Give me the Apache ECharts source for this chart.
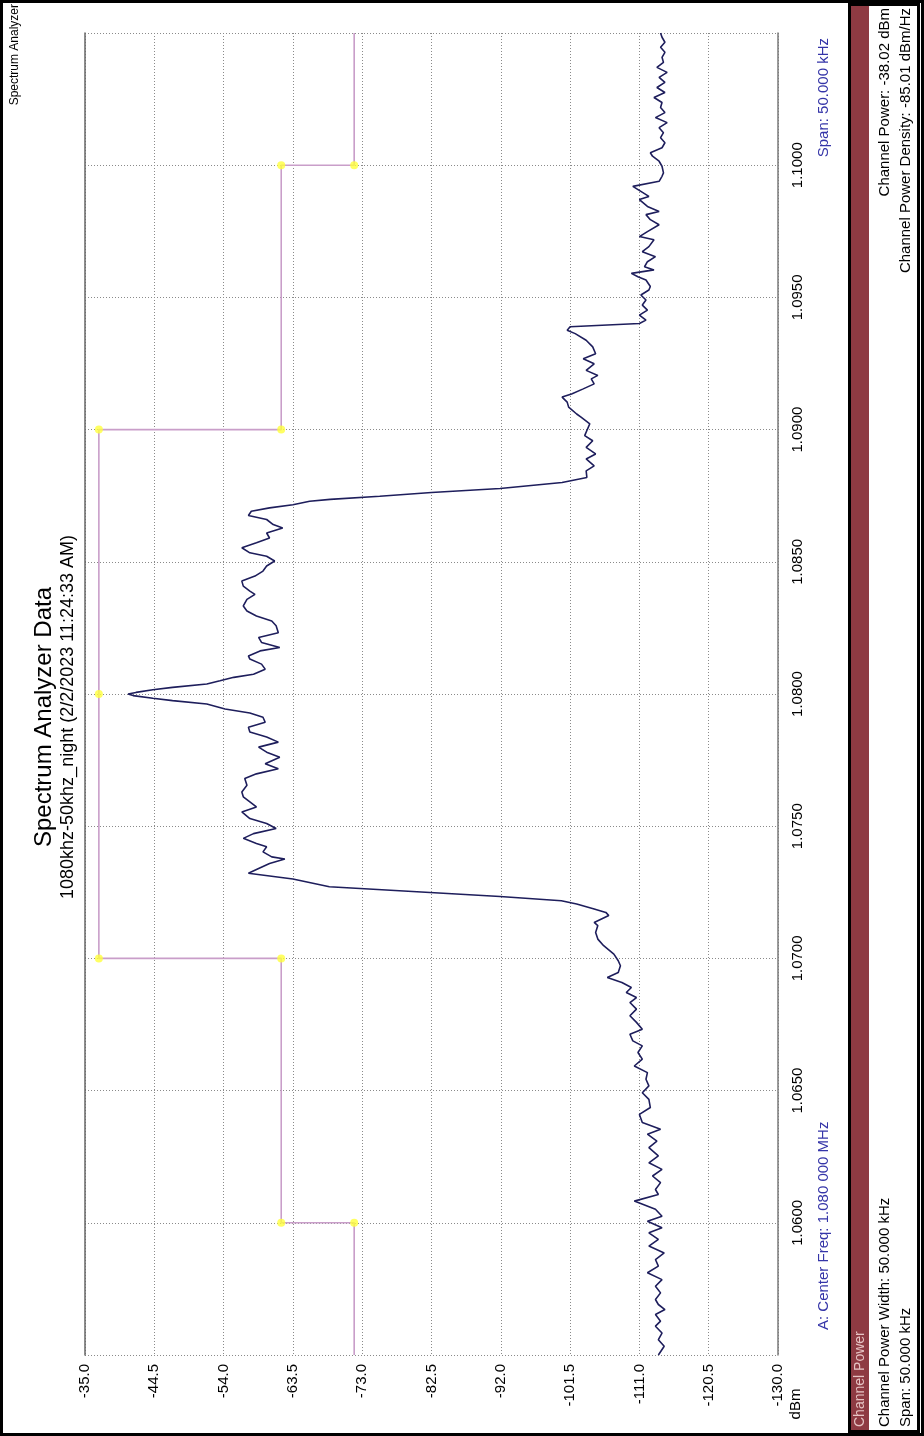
<!DOCTYPE html>
<html>
<head>
<meta charset="utf-8">
<script src="https://cdn.jsdelivr.net/npm/echarts@6/dist/echarts.min.js"></script>
<style>
  html, body { margin: 0; padding: 0; background: #fff; }
  #chart { width: 924px; height: 1436px; }
</style>
</head>
<body>
<div id="chart"></div>
<script>
// Sweep: frequency (kHz) and measured level (dBm)
const freqKHz = [
  1055.00,1055.33,1055.58,1055.83,1056.09,1056.28,1056.53,1056.72,1056.91,1057.10,
  1057.35,1057.60,1057.85,1058.11,1058.36,1058.61,1058.86,1059.12,1059.37,1059.62,
  1059.81,1060.06,1060.25,1060.51,1060.82,1061.07,1061.26,1061.52,1061.77,1062.02,
  1062.27,1062.53,1062.84,1063.09,1063.35,1063.54,1063.79,1064.10,1064.36,1064.67,
  1064.92,1065.18,1065.43,1065.68,1065.93,1066.19,1066.44,1066.69,1066.88,1067.13,
  1067.32,1067.58,1067.83,1068.08,1068.33,1068.52,1068.71,1068.90,1069.09,1069.28,
  1069.47,1069.72,1069.91,1070.16,1070.48,1070.73,1070.98,1071.24,1071.36,1071.62,
  1071.74,1071.87,1072.06,1072.18,
  1072.34,1072.49,1072.71,1073.00,1073.22,
  1073.40,1073.59,1073.76,1073.84,1074.03,1074.22,1074.35,1074.54,1074.72,1074.91,
  1075.10,1075.29,1075.54,1075.73,1075.92,1076.11,1076.29,1076.55,1076.80,1076.98,
  1077.17,1077.36,1077.61,1077.80,1077.99,1078.18,1078.37,1078.56,1078.74,1078.93,
  1079.12,1079.28,1079.43,1079.62,1079.75,1079.84,1079.94,1080.00,1080.06,1080.16,
  1080.25,1080.38,1080.50,1080.63,1080.75,1080.94,1081.13,1081.32,1081.44,1081.63,
  1081.76,1081.95,1082.14,1082.32,1082.58,1082.76,1082.95,1083.14,1083.33,1083.58,
  1083.77,1083.89,1084.08,1084.27,1084.46,1084.65,1084.84,1085.03,1085.21,1085.34,
  1085.53,1085.72,1085.90,1086.09,1086.28,1086.41,1086.60,1086.75,1086.91,1087.04,
  1087.16,1087.29,1087.36,
  1087.48,1087.62,1087.77,1088.00,1088.19,
  1088.44,1088.63,1088.89,1089.08,1089.33,1089.58,1089.77,1090.03,1090.22,1090.47,
  1090.59,1090.85,1091.04,1091.23,1091.35,1091.54,1091.73,1091.92,1092.05,1092.24,
  1092.49,1092.68,1092.87,1093.13,1093.38,1093.63,1093.76,1093.89,1094.01,1094.14,
  1094.33,1094.52,1094.71,1094.90,1095.09,1095.28,1095.41,1095.66,1095.78,1095.91,
  1096.04,1096.16,1096.35,1096.54,1096.73,1096.92,1097.18,1097.30,1097.49,1097.75,
  1097.94,1098.13,1098.25,1098.44,1098.70,1098.82,1099.01,1099.20,1099.39,1099.58,
  1099.71,1099.96,1100.15,1100.34,1100.47,1100.66,1100.85,1101.04,1101.23,1101.42,
  1101.61,1101.80,1101.99,1102.18,1102.37,1102.56,1102.75,1102.94,1103.13,1103.32,
  1103.51,1103.70,1103.89,1104.08,1104.27,1104.46,1104.65,1104.84,1105.00
];
const levelDbm = [
  -113.6,-114.4,-113.6,-114.1,-113.2,-113.9,-113.2,-114.5,-113.6,-113.2,
  -113.9,-113.2,-114.1,-112.1,-113.6,-113.2,-114.4,-112.3,-113.6,-112.3,
  -114.1,-112.1,-114.1,-113.2,-110.3,-113.6,-113.2,-113.9,-112.8,-114.1,
  -112.3,-113.6,-112.3,-113.4,-112.1,-113.9,-111.4,-111.0,-112.5,-112.3,
  -111.4,-112.3,-111.9,-112.1,-110.3,-111.4,-110.8,-111.4,-110.1,-109.7,
  -111.4,-110.6,-109.7,-110.6,-109.7,-110.6,-109.2,-109.9,-108.6,-106.6,
  -108.1,-108.4,-108.1,-107.5,-106.1,-105.3,-105.0,-105.3,-104.8,-106.8,
  -106.4,-104.8,-102.4,-100.3,
  -91.9,-82.3,-68.5,-63.5,-57.4,
  -58.8,-60.3,-62.4,-60.6,-59.4,-59.9,-58.5,-56.7,-58.1,-61.2,
  -59.9,-57.6,-56.5,-58.5,-57.6,-56.7,-56.5,-57.2,-56.9,-58.5,
  -61.5,-59.7,-61.7,-59.9,-58.8,-61.5,-59.9,-57.6,-57.4,-59.7,
  -59.4,-57.6,-54.2,-51.7,-47.0,-44.3,-41.6,-40.9,-42.0,-44.3,
  -47.0,-51.7,-53.5,-55.4,-58.1,-59.7,-59.2,-57.6,-57.4,-59.0,
  -61.7,-59.2,-58.8,-61.5,-61.2,-60.6,-58.5,-57.2,-56.7,-57.2,
  -58.3,-57.6,-56.7,-56.5,-58.3,-59.4,-59.9,-61.0,-59.9,-57.6,
  -56.5,-58.5,-60.3,-59.9,-62.1,-60.8,-59.9,-57.4,-57.8,-60.3,
  -63.5,-65.8,-68.6,
  -75.4,-82.5,-91.9,-100.4,-103.8,
  -103.7,-104.8,-103.7,-105.0,-103.7,-104.6,-103.5,-103.9,-104.2,-103.0,
  -102.4,-101.3,-101.1,-100.4,-101.7,-103.3,-104.8,-104.4,-105.3,-103.7,
  -104.8,-103.3,-105.0,-104.6,-103.7,-102.2,-101.1,-101.5,-111.0,-111.9,
  -111.0,-112.1,-111.4,-111.9,-111.2,-112.3,-112.5,-111.9,-110.8,-109.9,
  -113.0,-111.7,-112.1,-113.2,-111.4,-112.3,-113.0,-111.0,-112.1,-113.7,
  -112.5,-111.9,-113.7,-112.1,-111.0,-112.3,-111.2,-110.1,-113.7,-114.1,
  -114.3,-114.1,-113.7,-112.8,-112.5,-114.1,-114.5,-113.9,-114.3,-113.7,
  -114.8,-113.2,-114.5,-113.9,-114.1,-113.0,-114.5,-113.4,-114.5,-113.7,
  -114.8,-113.4,-114.3,-114.1,-114.5,-113.9,-114.5,-114.1,-113.9
];

// Channel power limit mask (kHz, dBm) and its corner markers
const maskFreqKHz = [1055, 1060, 1060, 1070, 1070, 1090, 1090, 1100, 1100, 1105];
const maskDbm     = [-71.9, -71.9, -61.9, -61.9, -36.9, -36.9, -61.9, -61.9, -71.9, -71.9];
const markerFreqKHz = [1060, 1060, 1070, 1070, 1080, 1090, 1090, 1100, 1100];
const markerDbm     = [-71.9, -61.9, -61.9, -36.9, -36.9, -36.9, -61.9, -61.9, -71.9];

// Axis ticks
const levelTicks = [-130, -120.5, -111, -101.5, -92, -82.5, -73, -63.5, -54, -44.5, -35];
const freqGridKHz = [1055, 1060, 1065, 1070, 1075, 1080, 1085, 1090, 1095, 1100, 1105];
const freqLabelKHz = [1060, 1065, 1070, 1075, 1080, 1085, 1090, 1095, 1100];

const FONT = '"Liberation Sans", Arial, Helvetica, sans-serif';
const ROT = Math.PI / 2;

function vText(x, y, text, size, align, color, extra) {
  return Object.assign({
    type: 'text', x: x, y: y, rotation: ROT, silent: true,
    style: { text: text, fontSize: size, fontFamily: FONT, fill: color || '#000',
             align: align || 'center', verticalAlign: 'middle' }
  }, extra || {});
}

const chart = echarts.init(document.getElementById('chart'), null, { renderer: 'canvas' });

chart.setOption({
  animation: false,
  backgroundColor: '#fff',
  grid: { left: 85, top: 33, width: 693, height: 1322, containLabel: false },
  xAxis: [{
    type: 'value', min: -130, max: -35, inverse: true, position: 'bottom',
    axisLine: { show: false },
    axisTick: { show: false, customValues: levelTicks },
    axisLabel: {
      customValues: levelTicks, rotate: 90, margin: 9,
      fontSize: 15, fontFamily: FONT, color: '#000',
      formatter: v => v.toFixed(1)
    },
    splitLine: { show: true, lineStyle: { color: '#8a8a8a', width: 1, type: [1, 2] } }
  }],
  yAxis: [{
    type: 'value', min: 1055, max: 1105, position: 'right',
    axisLine: { show: true, lineStyle: { color: '#7a7a7a', width: 1.5 } },
    axisTick: { show: false, customValues: freqGridKHz },
    axisLabel: {
      customValues: freqLabelKHz, rotate: 90, margin: 12,
      fontSize: 15, fontFamily: FONT, color: '#000',
      formatter: v => (v / 1000).toFixed(4)
    },
    splitLine: { show: true, lineStyle: { color: '#8a8a8a', width: 1, type: [1, 2] } }
  }, {
    type: 'value', min: 1055, max: 1105, position: 'left',
    axisLine: { show: true, lineStyle: { color: '#666', width: 1.5 } },
    axisTick: { show: false }, axisLabel: { show: false }, splitLine: { show: false }
  }],
  series: [{
    name: 'Limit', type: 'line', xAxisIndex: 0, yAxisIndex: 0,
    data: maskFreqKHz.map((f, i) => [maskDbm[i], f]),
    showSymbol: false, silent: true, z: 2,
    lineStyle: { color: '#c99ec9', width: 1.6 }
  }, {
    name: 'Trace', type: 'line', xAxisIndex: 0, yAxisIndex: 0,
    data: freqKHz.map((f, i) => [levelDbm[i], f]),
    showSymbol: false, silent: true, z: 3,
    lineStyle: { color: '#1e1e5c', width: 1.6 }
  }, {
    name: 'Markers', type: 'scatter', xAxisIndex: 0, yAxisIndex: 0,
    data: markerFreqKHz.map((f, i) => [markerDbm[i], f]),
    symbolSize: 8, silent: true, z: 4,
    itemStyle: { color: '#ffff3c' }
  }],
  graphic: [
    // outer frame
    { type: 'rect', shape: { x: 1.5, y: 1.5, width: 921, height: 1433 }, silent: true,
      style: { fill: 'none', stroke: '#000', lineWidth: 3 } },
    vText(15, 4, 'Spectrum Analyzer', 12, 'right'),
    vText(44, 717, 'Spectrum Analyzer Data', 24, 'center'),
    vText(68, 717, '1080khz-50khz_night (2/2/2023 11:24:33 AM)', 18, 'center'),
    vText(796, 1404, 'dBm', 15, 'center'),
    vText(824, 1330, 'A: Center Freq: 1.080 000 MHz', 15, 'left', '#3535a8'),
    vText(824, 38, 'Span: 50.000 kHz', 15, 'right', '#3535a8'),
    // channel power panel
    { type: 'rect', shape: { x: 849.5, y: 4.5, width: 69, height: 1427 }, silent: true,
      style: { fill: '#fff', stroke: '#000', lineWidth: 3 } },
    { type: 'rect', shape: { x: 851, y: 6, width: 18, height: 1424 }, silent: true,
      style: { fill: '#8e3a42' } },
    vText(860, 1427, 'Channel Power', 14, 'left', '#e6c3c3'),
    vText(885, 1427, 'Channel Power Width: 50.000 kHz', 15, 'left'),
    vText(906, 1427, 'Span: 50.000 kHz', 15, 'left'),
    vText(885, 8, 'Channel Power: -38.02 dBm', 15, 'right'),
    vText(906, 8, 'Channel Power Density: -85.01 dBm/Hz', 15, 'right')
  ]
});
</script>
</body>
</html>
